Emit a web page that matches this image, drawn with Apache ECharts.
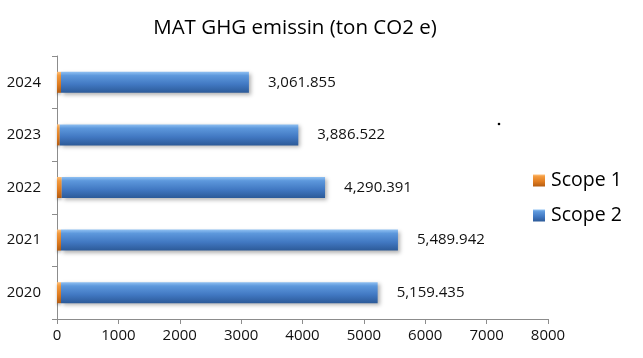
<!DOCTYPE html>
<html>
<head>
<meta charset="utf-8">
<script src="https://cdn.jsdelivr.net/npm/echarts@6/dist/echarts.min.js"></script>
<style>html,body{margin:0;padding:0;background:#fff;}#c{width:643px;height:358px;}</style>
</head>
<body>
<div id="c"></div>
<script>
const categories = ['2020', '2021', '2022', '2023', '2024'];
const scope1 = [65, 65, 77, 45, 65];
const scope2 = [5159.435, 5489.942, 4290.391, 3886.522, 3061.855];
const valueLabels = ['5,159.435', '5,489.942', '4,290.391', '3,886.522', '3,061.855'];
const xTicks = [0, 1000, 2000, 3000, 4000, 5000, 6000, 7000, 8000];

const font = '"Open Sans", "Noto Sans", sans-serif';
const chart = echarts.init(document.getElementById('c'), null, {renderer: 'canvas'});

function vgrad(stops) {
  return new echarts.graphic.LinearGradient(0, 0, 0, 1, stops.map(c => ({offset: c[0], color: c[1]})));
}

const blue = vgrad([[0, '#8fc0f2'], [0.18, '#5d98dc'], [0.6, '#4178c2'], [1, '#2c5a98']]);
const orange = vgrad([[0, '#ffc07a'], [0.18, '#f39a3e'], [0.6, '#e07c20'], [1, '#b45c12']]);

chart.setOption({
  animation: false,
  backgroundColor: '#ffffff',
  title: {
    text: 'MAT GHG emissin (ton CO2 e)',
    left: 290, top: 13, textAlign: 'center',
    textStyle: {fontFamily: font, fontSize: 20.5, fontWeight: 'normal', color: '#000'}
  },
  legend: {
    orient: 'vertical', left: 528, top: 164,
    itemWidth: 12, itemHeight: 12, itemGap: 12,
    icon: 'rect',
    textStyle: {fontFamily: font, fontSize: 19.5, color: '#000', lineHeight: 23, padding: [0, 0, 0, 1]},
    data: [
      {name: 'Scope 1', itemStyle: {color: orange}},
      {name: 'Scope 2', itemStyle: {color: blue}}
    ]
  },
  grid: {left: 57, right: 95, top: 56, bottom: 39},
  xAxis: {
    type: 'value', min: xTicks[0], max: xTicks[xTicks.length - 1], interval: 1000,
    axisLine: {show: true, lineStyle: {color: '#8c8c8c'}},
    axisTick: {show: true, length: 5, lineStyle: {color: '#8c8c8c'}},
    splitLine: {show: false},
    axisLabel: {fontFamily: font, fontSize: 15, color: '#111', margin: 9, formatter: v => String(v)}
  },
  yAxis: {
    type: 'category', data: categories,
    axisLine: {show: true, lineStyle: {color: '#8c8c8c'}},
    axisTick: {show: true, length: 5, lineStyle: {color: '#8c8c8c'}},
    axisLabel: {fontFamily: font, fontSize: 15, color: '#111', margin: 16}
  },
  series: [
    {
      name: 'Scope 1', type: 'bar', stack: 's', barWidth: 21,
      data: scope1,
      itemStyle: {color: orange, shadowColor: 'rgba(0,0,0,0.25)', shadowBlur: 3, shadowOffsetY: 2}
    },
    {
      name: 'Scope 2', type: 'bar', stack: 's', barWidth: 21,
      data: scope2,
      itemStyle: {color: blue, shadowColor: 'rgba(0,0,0,0.3)', shadowBlur: 4, shadowOffsetX: 2, shadowOffsetY: 2},
      label: {
        show: true, position: 'right', distance: 19,
        fontFamily: font, fontSize: 15, color: '#111',
        formatter: p => valueLabels[p.dataIndex]
      }
    }
  ],
  graphic: [{type: 'circle', shape: {cx: 499, cy: 124, r: 1.3}, style: {fill: '#000'}}]
});
</script>
</body>
</html>
